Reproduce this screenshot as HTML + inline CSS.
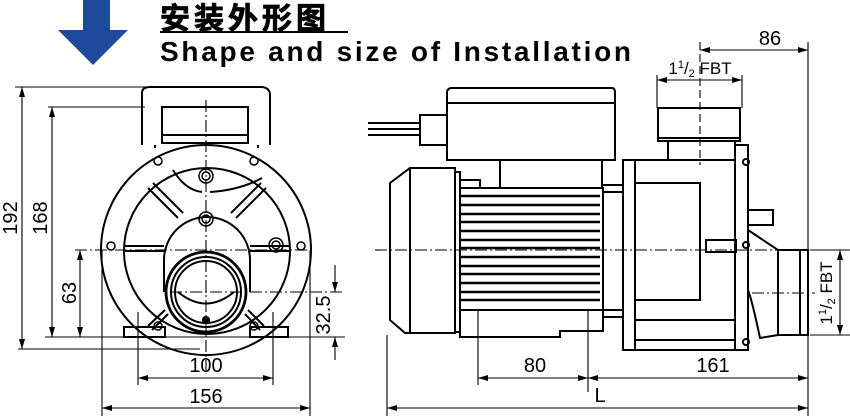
<!DOCTYPE html>
<html><head><meta charset="utf-8"><style>
html,body{margin:0;padding:0;background:#fff;}
svg{display:block}
text{font-family:"Liberation Sans","Noto Sans CJK SC",sans-serif;fill:#000}
</style></head><body>
<svg width="850" height="416" viewBox="0 0 850 416" xmlns="http://www.w3.org/2000/svg">
<defs>
<marker id="a" viewBox="0 0 10 6" refX="10" refY="3" markerWidth="11" markerHeight="6" orient="auto-start-reverse" markerUnits="userSpaceOnUse"><path d="M0,0 L10,3 L0,6 z" fill="#000"/></marker>
</defs>
<path d="M83,0 H110 V30 H128 L93,65 L58,30 H83 Z" fill="#1f4a9c"/>
<text x="160" y="29" font-size="30" font-weight="bold" letter-spacing="4" stroke="#000" stroke-width="0.8">安装外形图</text>
<line x1="160" y1="32" x2="348" y2="32" stroke="#000" stroke-width="2"/>
<text x="160" y="61" font-size="28" font-weight="bold" letter-spacing="1" textLength="472">Shape and size of Installation</text>

<g fill="none" stroke="#000" stroke-width="2">
<!-- LEFT VIEW -->
<path d="M142,145 V93 Q142,87 150,87 H262 Q270,88 270,95 V145"/>
<rect x="162" y="107" width="86" height="36"/>
<line x1="162" y1="135" x2="248" y2="135"/>
<path d="M155,145 V148 M258,145 V148"/>
<circle cx="206" cy="250" r="105"/>
<circle cx="207" cy="251" r="83"/>
<path d="M164,292 V260 A43,43 0 0 1 250,260 V292"/>
<path d="M148,188 L178,218 M153,183 L183,213 M266,188 L236,218 M261,183 L231,213"/>
<path d="M124,246 H164 M124,251 H164 M250,246 H290 M250,251 H290"/>
<path d="M165,310 L148,326 M168,314 L152,330 M248,310 L264,326 M245,314 L260,330"/>
<path d="M173,170 Q185,190 202,192"/>
<path d="M210,192 Q240,190 262,178"/>
<circle cx="206" cy="292" r="40" stroke-width="2.8"/>
<circle cx="206" cy="292" r="35"/>
<circle cx="206" cy="292" r="31"/>
<path d="M178,292 Q206,315 234,292"/>
<rect x="124" y="327" width="41" height="10"/>
<rect x="250" y="327" width="38" height="10"/>
<g stroke-width="1.5">
<circle cx="206" cy="176" r="7"/><circle cx="206" cy="176" r="4"/>
<circle cx="206" cy="219" r="7"/><circle cx="206" cy="219" r="4"/>
<circle cx="276" cy="245" r="7"/><circle cx="276" cy="245" r="4"/>
<circle cx="158" cy="161" r="4"/><circle cx="254" cy="161" r="4"/>
<circle cx="111" cy="246" r="4"/><circle cx="301" cy="246" r="4"/>
<circle cx="158" cy="326" r="4"/><circle cx="254" cy="326" r="4"/>
</g>
</g>
<circle cx="206" cy="320" r="4" fill="#000"/>
<g stroke="#000" stroke-width="1.1" fill="none">
<path d="M206,100 V370" stroke-dasharray="12,3,2,3"/>
<path d="M75,250 H312" stroke-dasharray="12,3,2,3"/>
<path d="M170,292 H345" stroke-dasharray="12,3,2,3"/>
<path d="M15,87 H150 M48,107 H145 M45,337 H345 M18,349 H200"/>
<line x1="22" y1="87" x2="22" y2="349" marker-start="url(#a)" marker-end="url(#a)"/>
<line x1="52" y1="107" x2="52" y2="337" marker-start="url(#a)" marker-end="url(#a)"/>
<line x1="80" y1="250" x2="80" y2="337" marker-start="url(#a)" marker-end="url(#a)"/>
<line x1="335" y1="265" x2="335" y2="292" marker-end="url(#a)"/>
<line x1="335" y1="360" x2="335" y2="337" marker-end="url(#a)"/>
<path d="M138,312 V385 M273,312 V385 M102,250 V416 M310,250 V416"/>
<line x1="138" y1="378" x2="273" y2="378" marker-start="url(#a)" marker-end="url(#a)"/>
<line x1="102" y1="408" x2="310" y2="408" marker-start="url(#a)" marker-end="url(#a)"/>
</g>
<text font-size="20" transform="translate(17,218) rotate(-90)" text-anchor="middle">192</text>
<text font-size="20" transform="translate(47,218) rotate(-90)" text-anchor="middle">168</text>
<text font-size="20" transform="translate(76,293) rotate(-90)" text-anchor="middle">63</text>
<text font-size="20" transform="translate(330,315) rotate(-90)" text-anchor="middle">32.5</text>
<text x="206" y="372" font-size="20" text-anchor="middle">100</text>
<text x="206" y="403" font-size="20" text-anchor="middle">156</text>

<!-- RIGHT VIEW -->
<g fill="none" stroke="#000" stroke-width="2">
<path d="M455,168 H410 L390,183 V320 L405,333 H455 Z"/>
<line x1="410" y1="168" x2="410" y2="333"/>
<rect x="455" y="172" width="5" height="160"/>
<rect x="460" y="188" width="143" height="122"/>
<g stroke-width="2.6">
<path d="M460,196H600 M460,205H600 M460,214H600 M460,222H600 M460,231H600 M460,240H600 M460,248H600 M460,257H600 M460,266H600 M460,274H600 M460,283H600 M460,292H600 M460,300H600"/>
</g>
<path d="M447,160 V93 Q447,88 452,88 H612 Q615,88 615,93 V160 Z"/>
<line x1="447" y1="103" x2="615" y2="103"/>
<rect x="500" y="160" width="102" height="28"/>
<path d="M460,180 H480 V188"/>
<rect x="420" y="115" width="27" height="30"/>
<path d="M368,123 H420 M368,129 H420 M368,135 H420"/>
<path d="M603,185 H623 M603,192 H623 M603,310 H623 M603,317 H623"/>
<path d="M460,310 V337 H560 V331 H603 V310"/>
<rect x="623" y="160" width="12" height="190"/>
<rect x="635" y="160" width="100" height="190"/>
<path d="M635,183 H700 V300 H635 M635,320 H735 M635,340 H735"/>
<rect x="735" y="145" width="13" height="205"/>
<rect x="658" y="108" width="82" height="33"/>
<path d="M658,138 H740 M668,141 V160 M735,141 V145"/>
<rect x="748" y="210" width="25" height="15"/>
<rect x="706" y="240" width="30" height="12"/>
<path d="M748,230 L778,250 V335 L760,338 Q752,300 748,290"/>
<rect x="778" y="250" width="30" height="85"/>
<line x1="800" y1="250" x2="800" y2="335"/>
<circle cx="746" cy="162" r="3"/><circle cx="746" cy="245" r="3"/><circle cx="746" cy="342" r="3"/>
</g>
<g stroke="#000" stroke-width="1.1" fill="none">
<path d="M375,250 H850" stroke-dasharray="12,3,2,3"/>
<path d="M752,293 H815" stroke-dasharray="12,3,2,3"/>
<path d="M700,42 V165" stroke-dasharray="8,4"/>
<path d="M808,42 V416 M657,75 V108 M742,75 V108 M810,250 H850 M810,335 H850"/>
<line x1="700" y1="50" x2="808" y2="50" marker-start="url(#a)" marker-end="url(#a)"/>
<line x1="657" y1="80" x2="742" y2="80" marker-start="url(#a)" marker-end="url(#a)"/>
<line x1="840" y1="250" x2="840" y2="335" marker-start="url(#a)" marker-end="url(#a)"/>
<path d="M478,310 V385 M588,310 V392 M387,335 V416"/>
<line x1="478" y1="378" x2="588" y2="378" marker-start="url(#a)" marker-end="url(#a)"/>
<line x1="588" y1="378" x2="808" y2="378" marker-start="url(#a)" marker-end="url(#a)"/>
<line x1="387" y1="408" x2="808" y2="408" marker-start="url(#a)" marker-end="url(#a)"/>
</g>
<text x="770" y="45" font-size="20" text-anchor="middle">86</text>
<text x="700" y="74" font-size="17" text-anchor="middle">1<tspan font-size="11" dy="-6">1</tspan><tspan dy="6">/</tspan><tspan font-size="11" dy="3">2</tspan><tspan dy="-3"> FBT</tspan></text>
<text font-size="17" transform="translate(832,293) rotate(-90)" text-anchor="middle">1<tspan font-size="11" dy="-6">1</tspan><tspan dy="6">/</tspan><tspan font-size="11" dy="3">2</tspan><tspan dy="-3"> FBT</tspan></text>
<text x="535" y="372" font-size="20" text-anchor="middle">80</text>
<text x="713" y="372" font-size="20" text-anchor="middle">161</text>
<text x="600" y="402" font-size="20" text-anchor="middle">L</text>
</svg>
</body></html>
